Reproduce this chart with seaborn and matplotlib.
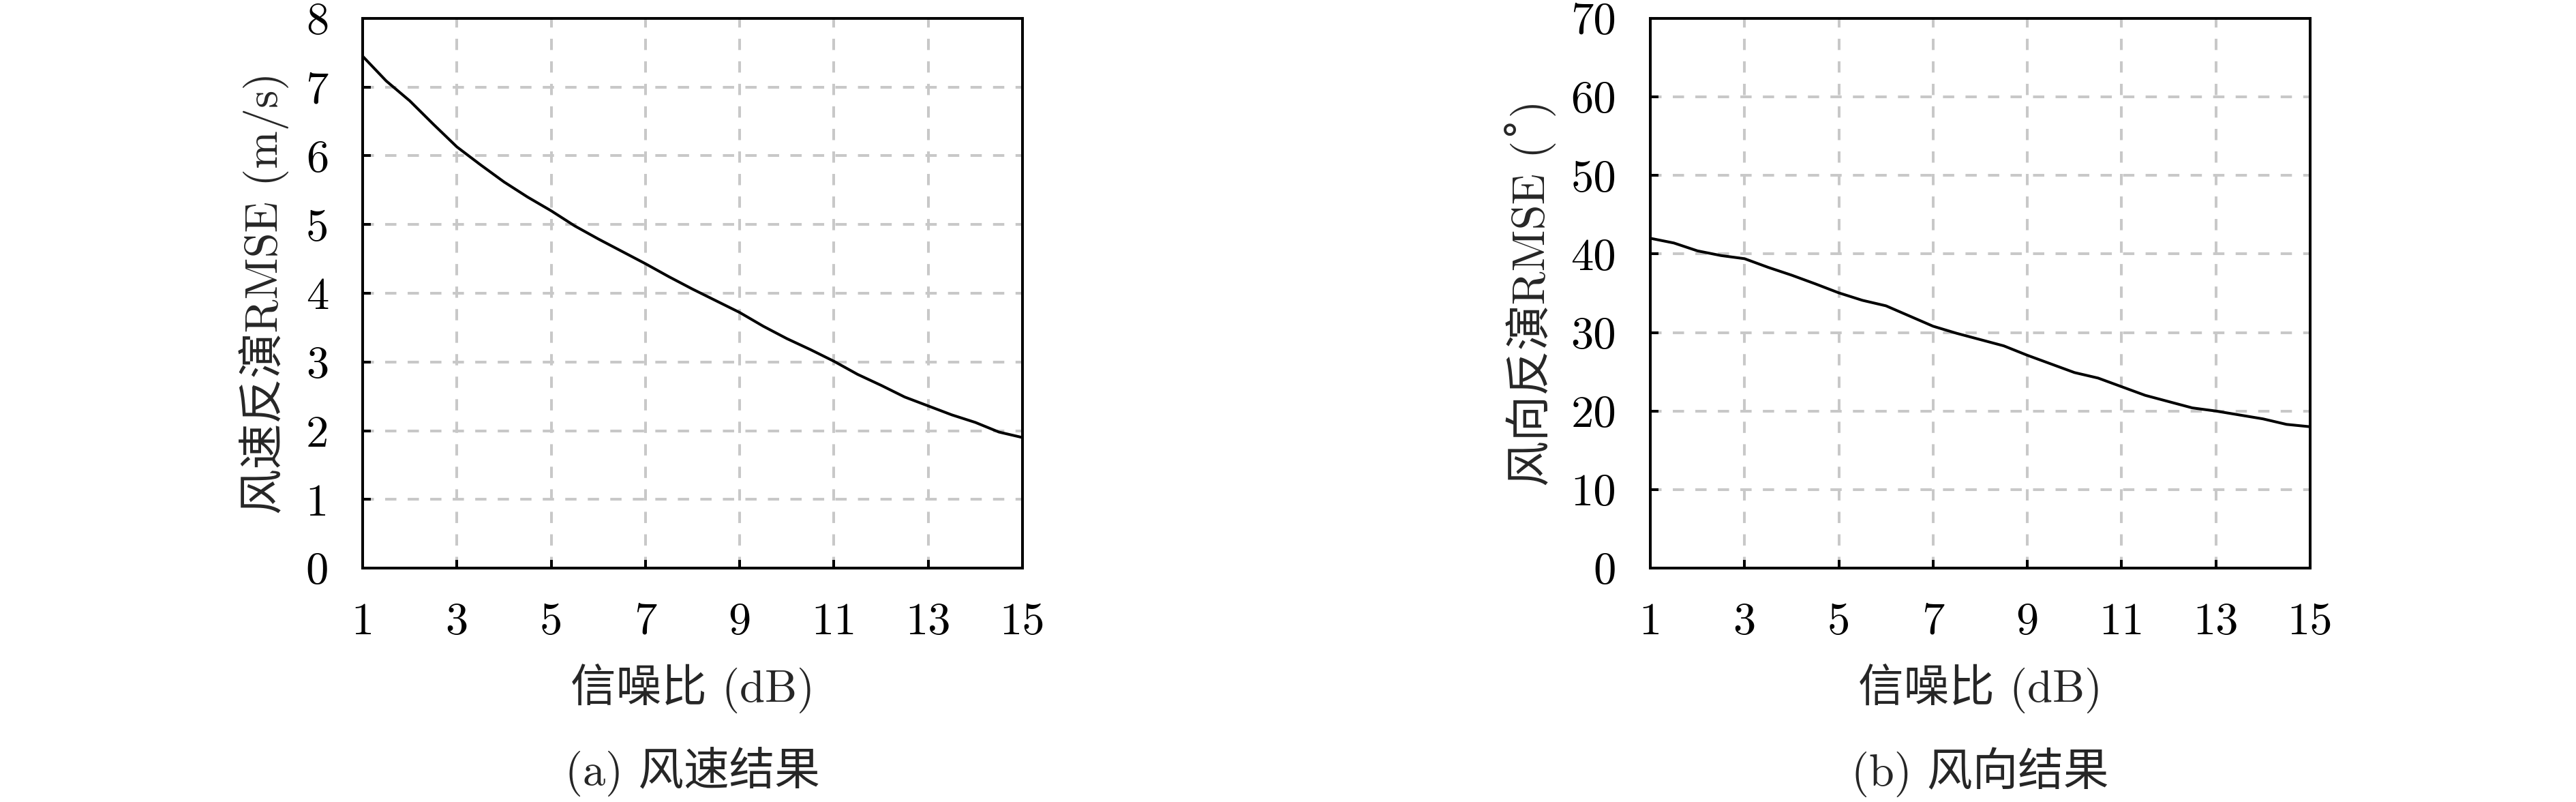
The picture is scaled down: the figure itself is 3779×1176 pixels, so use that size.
import matplotlib
matplotlib.use("Agg")
import matplotlib.pyplot as plt
import pandas as pd
import seaborn as sns

# SNR steps (dB)
snr = [1, 1.5, 2, 2.5, 3, 3.5, 4, 4.5, 5, 5.5, 6, 6.5, 7, 7.5, 8,
       8.5, 9, 9.5, 10, 10.5, 11, 11.5, 12, 12.5, 13, 13.5, 14, 14.5, 15]

# wind speed RMSE (m/s)
speed_rmse = [7.45, 7.09, 6.80, 6.46, 6.13, 5.87, 5.62, 5.40, 5.20, 4.98,
              4.79, 4.61, 4.43, 4.24, 4.06, 3.89, 3.72, 3.52, 3.34, 3.18,
              3.01, 2.82, 2.66, 2.49, 2.36, 2.23, 2.12, 1.98, 1.90]

# wind direction RMSE (deg)
dir_rmse = [42.0, 41.4, 40.4, 39.8, 39.4, 38.3, 37.3, 36.2, 35.05, 34.1,
            33.4, 32.1, 30.8, 29.9, 29.1, 28.3, 27.1, 26.0, 24.9, 24.2,
            23.1, 22.0, 21.2, 20.4, 20.0, 19.5, 19.0, 18.3, 18.0]

x_ticks = [1, 3, 5, 7, 9, 11, 13, 15]
speed_ticks = [0, 1, 2, 3, 4, 5, 6, 7, 8]
dir_ticks = [0, 10, 20, 30, 40, 50, 60, 70]

xlabel = "信噪比 (dB)"
# cmr10 puts a ligature at U+00B0, so use the spacing ring (U+02DA) which falls back
panels = [
    ("风速反演RMSE (m/s)", "(a) 风速结果", speed_rmse, speed_ticks, -0.150),
    ("风向反演RMSE (\u02da)", "(b) 风向结果", dir_rmse, dir_ticks, -0.182),
]

sns.set_style("white")
plt.rcParams["font.family"] = ["cmr10", "Noto Sans CJK SC", "DejaVu Sans"]
plt.rcParams["axes.unicode_minus"] = False

FS = 48
LW = 2.9

fig = plt.figure(figsize=(37.8, 11.76), dpi=100)
lefts = [532 / 3780, 2421 / 3780]

for left, (ylab, caption, vals, yticks, ylab_x) in zip(lefts, panels):
    ax = fig.add_axes([left, 343 / 1176, 968 / 3780, 806 / 1176])
    df = pd.DataFrame({"snr": snr, "rmse": vals})
    sns.lineplot(data=df, x="snr", y="rmse", ax=ax, color="black", linewidth=LW, zorder=3)

    ax.set_xlim(x_ticks[0], x_ticks[-1])
    ax.set_ylim(yticks[0], yticks[-1])
    ax.set_xticks(x_ticks)
    ax.set_yticks(yticks)
    ax.set_xticklabels([str(t) for t in x_ticks])
    ax.set_yticklabels([str(t) for t in yticks])

    # dashed light-grey grid under the curve
    ax.grid(True, color="#c8c8c8", linewidth=LW, linestyle=(0, (4.1, 4.1)), zorder=0)
    ax.set_axisbelow(True)
    for sp in ax.spines.values():
        sp.set_color("black")
        sp.set_linewidth(LW)
    ax.tick_params(axis="both", which="major", direction="in", length=8.5, width=LW,
                   labelsize=FS, pad=36, color="black", labelcolor="black",
                   top=False, right=False, bottom=True, left=True)

    ax.set_xlabel(xlabel, fontsize=FS, va="center")
    ax.xaxis.set_label_coords(0.5, -0.2196)
    ax.set_ylabel(ylab, fontsize=FS, va="center")
    ax.yaxis.set_label_coords(ylab_x, 0.5)

    fig.text(left + 0.5 * 968 / 3780, 1 - 1132 / 1176, caption, fontsize=FS,
             ha="center", va="center")

fig.savefig("out.png", dpi=100, facecolor="white")
